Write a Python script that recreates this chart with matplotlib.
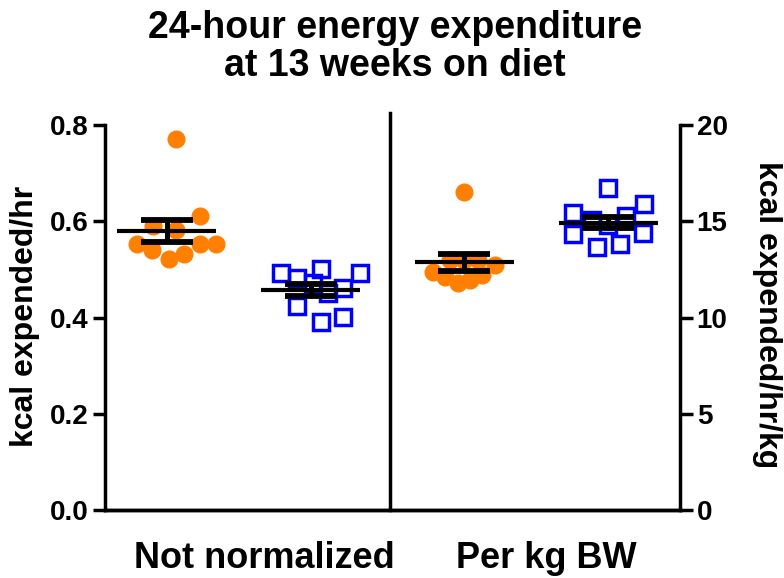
import matplotlib
matplotlib.use("Agg")
import matplotlib.pyplot as plt
import numpy as np

plt.rcParams['font.family'] = ['Liberation Sans', 'DejaVu Sans']
plt.rcParams['font.weight'] = 'bold'

# data (kcal/hr and kcal/hr/kg)
group_pos = [0.43, 1.43, 2.50, 3.50]

chow_raw = [0.771, 0.611, 0.590, 0.581, 0.552, 0.541, 0.552, 0.552, 0.521, 0.531]
chow_raw_dx = [0.067, 0.23, -0.093, 0.067, -0.21, -0.10, 0.23, 0.345, 0.012, 0.123]

hfd_raw = [0.492, 0.482, 0.501, 0.492, 0.450, 0.461, 0.423, 0.391, 0.402, 0.471]
hfd_raw_dx = [-0.207, -0.092, 0.071, 0.344, 0.124, 0.228, -0.092, 0.071, 0.228, 0.019]

chow_kg = [16.54, 12.38, 12.12, 11.78, 11.95, 12.21, 12.73, 13.0, 13.0, 13.0]
chow_kg_dx = [-0.003, -0.217, -0.136, -0.043, 0.038, 0.12, 0.212, -0.10, 0.094, 0.0]

hfd_kg = [16.71, 15.88, 15.41, 15.27, 15.06, 14.34, 14.37, 13.65, 13.82, 14.8]
hfd_kg_dx = [0.002, 0.25, -0.246, 0.125, -0.113, -0.241, 0.241, -0.079, 0.083, 0.002]

xlabels = ["Not normalized", "Per kg BW"]
xlabel_pos = [1.11, 3.07]

orange = '#ff8000'
blue = '#0000ff'

fig = plt.figure(figsize=(7.84, 5.78), dpi=100)
ax = fig.add_axes([105/784, 68/578, 575/784, 385/578])
ax2 = ax.twinx()


def dots(a, pos, vals, dx, kind):
    x = pos + np.array(dx)
    if kind == 'o':
        a.plot(x, vals, 'o', ms=12, color=orange, mec=orange, zorder=2, clip_on=False)
    else:
        a.plot(x, vals, 's', ms=11.5, mfc='none', mec=blue, mew=2.5, zorder=2, clip_on=False)
    m = np.mean(vals)
    sem = np.std(vals, ddof=1) / np.sqrt(len(vals))
    a.hlines(m, pos - 0.345, pos + 0.345, color='black', lw=3, zorder=3)
    a.errorbar(pos, m, yerr=sem, fmt='none', ecolor='black', elinewidth=3.6,
               capsize=19, capthick=4.2, zorder=3)


dots(ax, group_pos[0], chow_raw, chow_raw_dx, 'o')
dots(ax, group_pos[1], hfd_raw, hfd_raw_dx, 's')
dots(ax2, group_pos[2], chow_kg, chow_kg_dx, 'o')
dots(ax2, group_pos[3], hfd_kg, hfd_kg_dx, 's')

ax.set_xlim(0, 4)
ax.set_ylim(0, 0.8)
ax2.set_ylim(0, 20)
ax.set_yticks([0, 0.2, 0.4, 0.6, 0.8])
ax.set_yticklabels(['0.0', '0.2', '0.4', '0.6', '0.8'])
ax2.set_yticks([0, 5, 10, 15, 20])

# divider between the two panels
ax.plot([1.98, 1.98], [0, 0.825], color='black', lw=2.5, clip_on=False, zorder=4)

for a in (ax, ax2):
    for s in a.spines.values():
        s.set_linewidth(2.5)
    a.spines['top'].set_visible(False)
ax.spines['right'].set_visible(False)
ax2.spines['left'].set_visible(False)

ax.tick_params(axis='y', length=9, width=2.5, labelsize=20, pad=3)
ax2.tick_params(axis='y', length=9, width=2.5, labelsize=20, pad=3)
ax.set_xticks(xlabel_pos)
ax.set_xticklabels(xlabels, fontsize=26)
ax.tick_params(axis='x', length=0, pad=22)

fig.text(25/784, 1 - 316/578, "kcal expended/hr", rotation=90, ha='center', va='center',
         fontsize=23, fontweight='bold')
fig.text(767/784, 1 - 315/578, "kcal expended/hr/kg", rotation=-90, ha='center', va='center',
         fontsize=23, fontweight='bold')
fig.text(395/784, 1 - 47/578, "24-hour energy expenditure\nat 13 weeks on diet",
         ha='center', va='center', fontsize=27, fontweight='bold', linespacing=1.1)

fig.savefig('out.png', dpi=100)
